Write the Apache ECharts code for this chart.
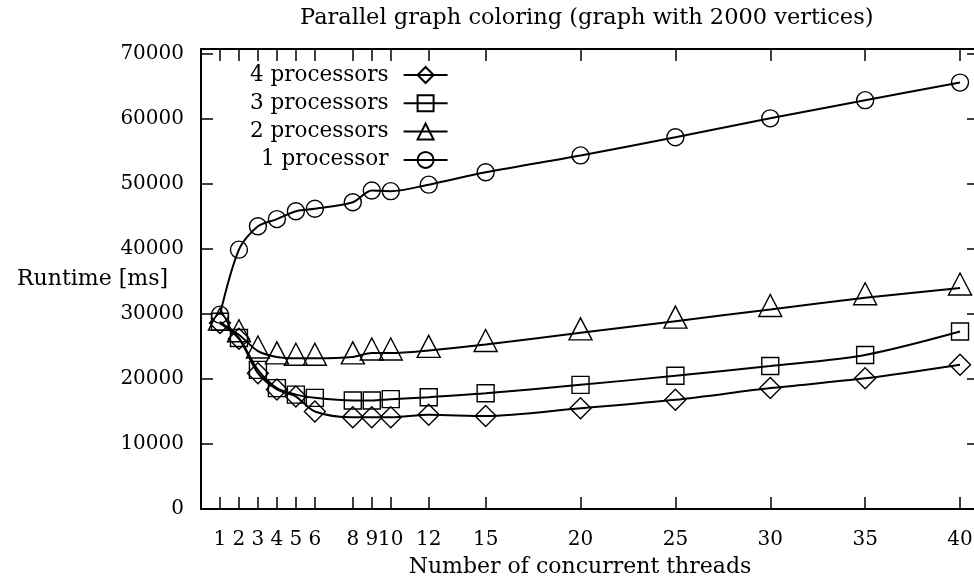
<!DOCTYPE html>
<html>
<head>
<meta charset="utf-8">
<script src="https://cdn.jsdelivr.net/npm/echarts@6/dist/echarts.min.js"></script>
<style>
html,body{margin:0;padding:0;background:#fff;}
#chart{width:974px;height:582px;}
</style>
</head>
<body>
<div id="chart"></div>
<script>
// Data
var threads = [1, 2, 3, 4, 5, 6, 8, 9, 10, 12, 15, 20, 25, 30, 35, 40];
var yTicks = [0, 10000, 20000, 30000, 40000, 50000, 60000, 70000];
var proc4 = [28600, 26200, 20900, 18400, 17300, 15000, 14100, 14100, 14100, 14500, 14300, 15500, 16800, 18600, 20100, 22200];
var proc3 = [28800, 26300, 21400, 18600, 17600, 17100, 16700, 16700, 16900, 17200, 17800, 19100, 20500, 22000, 23700, 27300];
var proc2 = [28600, 26800, 24300, 23400, 23200, 23200, 23400, 24000, 24000, 24400, 25300, 27100, 28900, 30700, 32500, 34000];
var proc1 = [29900, 39900, 43500, 44600, 45800, 46200, 47200, 49000, 48900, 49900, 51800, 54400, 57200, 60100, 62900, 65600];
var seriesNames = ['4 processors', '3 processors', '2 processors', '1 processor'];

var FONT = 'DejaVu Serif';

function pairs(ys) {
  return threads.map(function (x, i) { return [x, ys[i]]; });
}

function mkSeries(name, ys, symbol, size, offset) {
  return {
    name: name,
    type: 'line',
    xAxisIndex: 0,
    yAxisIndex: 0,
    data: pairs(ys),
    smooth: 0.3,
    symbol: symbol,
    symbolSize: size,
    symbolOffset: offset || [0, 0],
    showAllSymbol: true,
    lineStyle: { color: '#000', width: 2 },
    itemStyle: { color: 'rgba(0,0,0,0)', borderColor: '#000', borderWidth: 1.4 },
    emphasis: { disabled: true },
    animation: false
  };
}

function axisLine() {
  return { show: true, onZero: false, lineStyle: { color: '#000', width: 2 } };
}
function ticks(vals) {
  return { show: true, inside: true, length: 12, customValues: vals, lineStyle: { color: '#000', width: 1.5 } };
}
function plain(v) { return String(Math.round(v)); }

var chart = echarts.init(document.getElementById('chart'), null, { renderer: 'canvas' });
chart.setOption({
  backgroundColor: '#fff',
  animation: false,
  title: {
    text: 'Parallel graph coloring (graph with 2000 vertices)',
    left: 300,
    top: 7,
    padding: 0,
    textStyle: { fontFamily: FONT, fontSize: 22.5, fontWeight: 'normal', color: '#000' }
  },
  legend: {
    data: seriesNames,
    orient: 'vertical',
    align: 'right',
    left: 250,
    top: 64,
    padding: 0,
    itemWidth: 44,
    itemHeight: 20,
    itemGap: 6.3,
    selectedMode: false,
    textStyle: { fontFamily: FONT, fontSize: 21.5, color: '#000', padding: [0, 10, 0, 0] }
  },
  grid: { left: 201, top: 49, width: 778, height: 460, containLabel: false, outerBoundsMode: 'none' },
  xAxis: [
    {
      type: 'value', min: 0, max: 41, position: 'bottom',
      name: 'Number of concurrent threads',
      nameLocation: 'middle', nameGap: 47, nameMoveOverlap: false,
      nameTextStyle: { fontFamily: FONT, fontSize: 22, color: '#000', padding: [0, 20, 0, 0] },
      axisLine: axisLine(),
      axisTick: ticks(threads),
      axisLabel: { customValues: threads, formatter: plain, margin: 21, fontFamily: FONT, fontSize: 20, color: '#000' },
      splitLine: { show: false }
    },
    {
      type: 'value', min: 0, max: 41, position: 'top',
      axisLine: axisLine(),
      axisTick: ticks(threads),
      axisLabel: { show: false },
      splitLine: { show: false }
    }
  ],
  yAxis: [
    {
      type: 'value', min: 0, max: 70770, position: 'left',
      name: 'Runtime [ms]',
      nameLocation: 'middle', nameRotate: 0, nameGap: 33, nameMoveOverlap: false,
      nameTextStyle: { fontFamily: FONT, fontSize: 22, color: '#000' },
      axisLine: axisLine(),
      axisTick: ticks(yTicks),
      axisLabel: { customValues: yTicks, formatter: plain, margin: 17, fontFamily: FONT, fontSize: 20, color: '#000' },
      splitLine: { show: false }
    },
    {
      type: 'value', min: 0, max: 70770, position: 'right',
      axisLine: axisLine(),
      axisTick: ticks(yTicks),
      axisLabel: { show: false },
      splitLine: { show: false }
    }
  ],
  series: [
    mkSeries(seriesNames[0], proc4, 'diamond', [21, 21]),
    mkSeries(seriesNames[1], proc3, 'rect', [17, 17]),
    mkSeries(seriesNames[2], proc2, 'triangle', [23, 22], [0, -4]),
    mkSeries(seriesNames[3], proc1, 'circle', [17, 17])
  ]
});
</script>
</body>
</html>
